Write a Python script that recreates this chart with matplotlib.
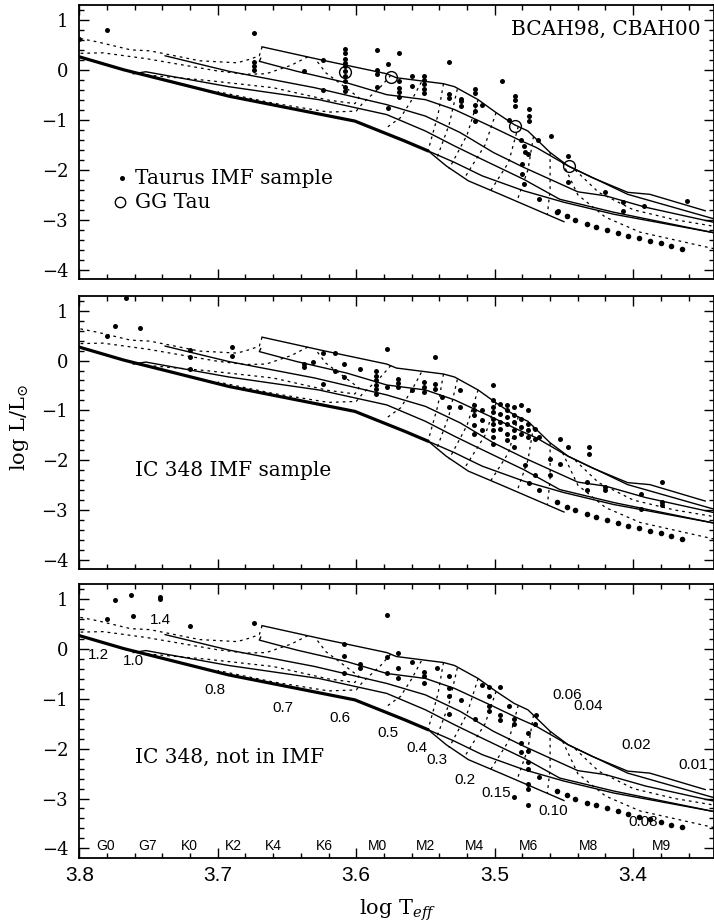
import matplotlib
matplotlib.use("Agg")
import matplotlib.pyplot as plt
from matplotlib.ticker import MultipleLocator

plt.rcParams["mathtext.fontset"] = "dejavuserif"

# ── axes limits ───────────────────────────────────────────────────────
XLIM = (3.80, 3.342)
YLIM = (-4.19, 1.30)

# ── model isochrones (log Teff, log L) ───────────────────────────────
ISO_A_T = [3.668, 3.624, 3.578, 3.571, 3.537, 3.529, 3.512, 3.499, 3.486, 3.476,
           3.460, 3.447, 3.430, 3.404, 3.388, 3.348]
ISO_A_L = [0.47, 0.20, -0.07, -0.15, -0.27, -0.33, -0.59, -0.85, -1.09, -1.22,
           -1.65, -1.92, -2.15, -2.45, -2.49, -2.82]
ISO_B_T = [3.669, 3.670, 3.643, 3.607, 3.578, 3.550, 3.529, 3.501, 3.483, 3.470,
           3.447, 3.404, 3.342]
ISO_B_L = [0.24, 0.18, -0.02, -0.25, -0.49, -0.59, -0.79, -1.15, -1.39, -1.55,
           -1.92, -2.49, -2.98]
ISO_C_T = [3.738, 3.692, 3.630, 3.578, 3.550, 3.525, 3.501, 3.479, 3.440, 3.420,
           3.391, 3.342]
ISO_C_L = [0.29, -0.02, -0.35, -0.69, -0.92, -1.25, -1.65, -1.95, -2.44, -2.52,
           -2.75, -3.05]
ISO_D_T = [3.761, 3.752, 3.746, 3.692, 3.627, 3.578, 3.550, 3.529, 3.512, 3.479,
           3.453, 3.414, 3.342]
ISO_D_L = [-0.07, -0.03, -0.06, -0.33, -0.59, -0.89, -1.22, -1.52, -1.75, -2.19,
           -2.59, -2.85, -3.26]
THICK_T = [3.800, 3.768, 3.692, 3.601, 3.565, 3.548]
THICK_L = [0.27, 0.01, -0.52, -1.02, -1.42, -1.62]
ISO_E1_T = [3.548, 3.535, 3.519, 3.496, 3.450]
ISO_E1_L = [-1.62, -1.92, -2.22, -2.49, -3.04]
ISO_E2_T = [3.548, 3.529, 3.509, 3.479, 3.450, 3.414, 3.342]
ISO_E2_L = [-1.62, -1.85, -2.12, -2.42, -2.65, -2.89, -3.26]

# big-dot model sequence
BIGDOT_T = [3.455, 3.448, 3.442, 3.433, 3.427, 3.419, 3.411, 3.404, 3.396,
            3.388, 3.380, 3.373, 3.365]
BIGDOT_L = [-2.84, -2.93, -3.00, -3.08, -3.14, -3.20, -3.26, -3.32, -3.37,
            -3.42, -3.47, -3.53, -3.58]

# ── mass tracks (dotted) ─────────────────────────────────────────────
TRACKS = {
    "1.4": ([3.668, 3.670, 3.677, 3.686, 3.713, 3.749, 3.763, 3.787, 3.800],
            [0.47, 0.29, 0.22, 0.15, 0.19, 0.39, 0.41, 0.57, 0.64]),
    "1.2": ([3.635, 3.647, 3.665, 3.680, 3.701, 3.751, 3.783, 3.800],
            [0.27, 0.10, -0.07, -0.08, -0.01, 0.23, 0.35, 0.34]),
    "1.0": ([3.628, 3.622, 3.610, 3.598, 3.601, 3.620, 3.660, 3.709, 3.758],
            [0.17, -0.05, -0.30, -0.55, -0.67, -0.60, -0.35, -0.20, -0.08]),
    "0.8": ([3.575, 3.583, 3.595, 3.600, 3.620, 3.660, 3.700],
            [-0.10, -0.35, -0.65, -0.82, -0.84, -0.66, -0.43]),
    "0.7": ([3.553, 3.560, 3.568, 3.578],
            [-0.24, -0.60, -0.95, -1.15]),
    "0.6": ([3.537, 3.541, 3.548], [-0.27, -0.90, -1.60]),
    "0.5": ([3.527, 3.533, 3.542], [-0.38, -1.10, -1.78]),
    "0.4": ([3.512, 3.520, 3.533], [-0.59, -1.30, -1.98]),
    "0.3": ([3.499, 3.507, 3.522], [-0.85, -1.50, -2.17]),
    "0.2": ([3.483, 3.490, 3.503], [-1.13, -1.85, -2.42]),
    "0.15": ([3.472, 3.476, 3.484], [-1.33, -2.00, -2.63]),
    "0.10": ([3.460, 3.460, 3.462], [-1.65, -2.40, -2.90]),
    "0.08": ([3.451, 3.440, 3.420, 3.395, 3.342], [-1.85, -2.50, -2.95, -3.25, -3.58]),
    "0.06": ([3.442, 3.425, 3.400, 3.370, 3.342], [-2.00, -2.45, -2.80, -3.00, -3.13]),
}

# mass labels (bottom panel)
MASS_LABELS = ["1.4", "1.2", "1.0", "0.8", "0.7", "0.6", "0.5", "0.4", "0.3",
               "0.2", "0.15", "0.10", "0.08", "0.06", "0.04", "0.02", "0.01"]
MASS_LAB_T = [3.7417, 3.7863, 3.761, 3.702, 3.6527, 3.6118, 3.577, 3.5564, 3.542,
              3.5215, 3.4986, 3.4578, 3.3928, 3.448, 3.4325, 3.3975, 3.3567]
MASS_LAB_L = [0.587, -0.114, -0.248, -0.816, -1.18, -1.38, -1.68, -1.98, -2.22,
              -2.62, -2.89, -3.25, -3.47, -0.92, -1.15, -1.92, -2.32]

# spectral types along the bottom
SPT_LABELS = ["G0", "G7", "K0", "K2", "K4", "K6", "M0", "M2", "M4", "M6", "M8", "M9"]
SPT_T = [3.781, 3.751, 3.7206, 3.689, 3.660, 3.623, 3.585, 3.550, 3.5143,
         3.4753, 3.4325, 3.3795]

# ── observed samples ─────────────────────────────────────────────────
TAU_T = [3.800, 3.780, 3.674, 3.674, 3.674, 3.674, 3.624, 3.638, 3.624,
         3.608, 3.608, 3.608, 3.608, 3.608, 3.608, 3.608, 3.608, 3.608, 3.608,
         3.585, 3.577, 3.569, 3.585, 3.585, 3.585, 3.577,
         3.569, 3.569, 3.569, 3.569, 3.560, 3.560,
         3.551, 3.551, 3.551, 3.551, 3.551,
         3.533, 3.533, 3.533, 3.524, 3.524, 3.524,
         3.514, 3.514, 3.514, 3.514, 3.514, 3.509, 3.495, 3.490,
         3.485, 3.485, 3.485, 3.475, 3.475, 3.475,
         3.481, 3.479, 3.478, 3.476, 3.480, 3.480, 3.469, 3.459,
         3.479, 3.468, 3.447, 3.447, 3.454, 3.448, 3.420, 3.407, 3.407, 3.392, 3.361]
TAU_L = [0.63, 0.80, 0.75, 0.16, 0.08, 0.01, 0.21, -0.02, -0.39,
         0.43, 0.34, 0.23, 0.15, 0.08, -0.02, -0.12, -0.22, -0.33, -0.42,
         0.40, 0.13, 0.35, 0.00, -0.07, -0.33, -0.75,
         -0.22, -0.35, -0.44, -0.53, -0.11, -0.31,
         -0.12, -0.20, -0.28, -0.37, -0.45,
         0.17, -0.47, -0.55, -0.57, -0.62, -0.72,
         -0.37, -0.45, -0.69, -0.82, -1.02, -0.69, -0.22, -1.00,
         -0.51, -0.59, -0.72, -0.77, -0.92, -1.02,
         -1.39, -1.52, -1.65, -1.69, -1.89, -2.09, -1.39, -1.32,
         -2.29, -2.59, -1.72, -2.24, -2.82, -2.92, -2.45, -2.64, -2.82, -2.72, -2.62]
GGTAU_T = [3.608, 3.575, 3.485, 3.446]
GGTAU_L = [-0.04, -0.13, -1.11, -1.92]

IMF_T = [3.766, 3.774, 3.780, 3.756, 3.720, 3.720, 3.720, 3.690, 3.690,
         3.624, 3.615, 3.638, 3.638, 3.631, 3.624, 3.615, 3.609, 3.609, 3.597,
         3.586, 3.586, 3.586, 3.586, 3.586, 3.586, 3.578, 3.578,
         3.570, 3.570, 3.570, 3.560, 3.551, 3.551, 3.551,
         3.543, 3.543, 3.543, 3.538, 3.533, 3.525, 3.525,
         3.515, 3.515, 3.515, 3.515, 3.515, 3.501,
         3.509, 3.509, 3.509,
         3.501, 3.501, 3.501, 3.501, 3.501, 3.501, 3.501, 3.501,
         3.496, 3.496, 3.496, 3.496,
         3.491, 3.491, 3.491, 3.491, 3.491, 3.491,
         3.486, 3.486, 3.486, 3.486, 3.486, 3.486,
         3.481, 3.481, 3.481, 3.481,
         3.476, 3.476, 3.476, 3.476,
         3.471, 3.471, 3.468,
         3.478, 3.453, 3.447, 3.460, 3.460, 3.453,
         3.432, 3.432, 3.433, 3.433, 3.420, 3.420,
         3.394, 3.394, 3.379, 3.379, 3.379, 3.468, 3.471, 3.475]
IMF_L = [1.25, 0.70, 0.50, 0.65, 0.21, 0.07, -0.17, 0.28, 0.10,
         0.15, 0.15, -0.07, -0.13, -0.03, -0.48, -0.20, -0.07, -0.32, -0.17,
         -0.20, -0.30, -0.40, -0.50, -0.57, -0.67, 0.23, -0.53,
         -0.37, -0.45, -0.53, -0.59, -0.43, -0.53, -0.63,
         0.07, -0.47, -0.57, -0.73, -0.93, -0.60, -0.93,
         -0.90, -1.00, -1.10, -1.30, -1.47, -0.50,
         -1.00, -1.20, -1.40,
         -0.80, -0.93, -1.03, -1.17, -1.27, -1.40, -1.53, -1.67,
         -0.87, -1.07, -1.23, -1.37,
         -0.90, -1.00, -1.13, -1.27, -1.47, -1.60,
         -0.93, -1.10, -1.23, -1.40, -1.53, -1.73,
         -0.90, -1.17, -1.33, -1.47,
         -1.00, -1.27, -1.40, -1.53,
         -1.37, -1.57, -1.53,
         -2.10, -1.57, -1.73, -1.97, -2.30, -2.07,
         -1.73, -1.87, -2.43, -2.60, -2.53, -2.60,
         -2.68, -2.97, -2.43, -2.83, -2.90, -2.60, -2.30, -2.45]

NOT_T = [3.774, 3.763, 3.742, 3.742, 3.761, 3.780, 3.720, 3.674, 3.578,
         3.609, 3.609, 3.609, 3.597, 3.597, 3.578, 3.578,
         3.570, 3.570, 3.570, 3.560, 3.551, 3.551, 3.551, 3.542,
         3.533, 3.533, 3.533, 3.533, 3.524, 3.514, 3.509,
         3.504, 3.504, 3.504, 3.504, 3.496, 3.496, 3.496, 3.490,
         3.486, 3.486, 3.481, 3.481, 3.476, 3.476, 3.476, 3.476,
         3.471, 3.470, 3.468, 3.476, 3.476, 3.486, 3.476]
NOT_L = [0.99, 1.09, 1.04, 1.00, 0.66, 0.61, 0.46, 0.53, 0.69,
         0.10, -0.14, -0.49, -0.30, -0.39, -0.16, -0.49,
         -0.08, -0.39, -0.58, -0.26, -0.46, -0.54, -0.69, -0.38,
         -0.54, -0.79, -0.95, -1.30, -1.02, -1.41, -0.72,
         -0.76, -0.95, -1.15, -1.25, -0.76, -1.32, -1.43, -1.15,
         -1.41, -1.51, -1.88, -2.07, -1.68, -2.04, -2.27, -2.40,
         -1.51, -1.32, -2.57, -2.70, -2.80, -2.96, -3.13]

SERIF = "DejaVu Serif"
SANS = "Liberation Sans"


def draw_models(ax):
    for t, l in [(ISO_A_T, ISO_A_L), (ISO_B_T, ISO_B_L), (ISO_C_T, ISO_C_L),
                 (ISO_D_T, ISO_D_L), (ISO_E1_T, ISO_E1_L), (ISO_E2_T, ISO_E2_L)]:
        ax.plot(t, l, color="black", lw=1.0, zorder=2)
    ax.plot(THICK_T, THICK_L, color="black", lw=2.3, zorder=2,
            solid_capstyle="round")
    for t, l in TRACKS.values():
        ax.plot(t, l, color="black", lw=0.9, ls=(0, (2.2, 3.2)), zorder=2)
    ax.plot(BIGDOT_T, BIGDOT_L, "o", color="black", ms=4.0, mew=0, zorder=3)


def style_axes(ax, bottom=False):
    ax.set_xlim(*XLIM)
    ax.set_ylim(*YLIM)
    ax.xaxis.set_major_locator(MultipleLocator(0.1))
    ax.xaxis.set_minor_locator(MultipleLocator(0.02))
    ax.yaxis.set_major_locator(MultipleLocator(1))
    ax.yaxis.set_minor_locator(MultipleLocator(0.2))
    ax.tick_params(which="both", direction="in", top=True, right=True,
                   width=1.0, color="black")
    ax.tick_params(which="major", length=7.5)
    ax.tick_params(which="minor", length=3.6)
    ax.tick_params(axis="y", pad=8, labelsize=13)
    for lab in ax.get_yticklabels():
        lab.set_fontfamily(SERIF)
    ax.set_yticks([1, 0, -1, -2, -3, -4])
    ax.set_yticklabels(["1", "0", "\u22121", "\u22122", "\u22123", "\u22124"],
                       fontfamily=SERIF, fontsize=13)
    if bottom:
        ax.set_xticks([3.8, 3.7, 3.6, 3.5, 3.4])
        ax.set_xticklabels(["3.8", "3.7", "3.6", "3.5", "3.4"],
                           fontfamily=SANS, fontsize=15)
        ax.tick_params(axis="x", pad=6)
    else:
        ax.set_xticklabels([])
    for s in ax.spines.values():
        s.set_linewidth(1.3)


fig = plt.figure(figsize=(7.14, 9.22), dpi=100)
W = 714.0
H = 922.0
left = 79.3 / W
width = (713.5 - 79.3) / W
ph = 273.5 / H
tops = [5.5, 295.8, 584.3]
axes = [fig.add_axes([left, 1 - (t + 273.5) / H, width, ph]) for t in tops]

samples = [(TAU_T, TAU_L), (IMF_T, IMF_L), (NOT_T, NOT_L)]
for i, ax in enumerate(axes):
    draw_models(ax)
    t, l = samples[i]
    ax.plot(t, l, "o", color="black", ms=3.6, mew=0, zorder=4)
    style_axes(ax, bottom=(i == 2))

# panel 1 extras
ax1 = axes[0]
ax1.plot(GGTAU_T, GGTAU_L, "o", mfc="none", mec="black", ms=8.5, mew=1.0, zorder=5)
ax1.text(3.4885, 0.82, "BCAH98, CBAH00", fontfamily=SERIF, fontsize=14.5,
         ha="left", va="center")
ax1.plot([3.7695], [-2.17], "o", color="black", ms=3.6, mew=0)
ax1.text(3.7598, -2.17, "Taurus IMF sample", fontfamily=SERIF, fontsize=14.5,
         ha="left", va="center")
ax1.plot([3.7706], [-2.65], "o", mfc="none", mec="black", ms=7.5, mew=1.0)
ax1.text(3.7598, -2.65, "GG Tau", fontfamily=SERIF, fontsize=14.5,
         ha="left", va="center")

axes[1].text(3.7598, -2.20, "IC 348 IMF sample", fontfamily=SERIF, fontsize=14.5,
             ha="left", va="center")

ax3 = axes[2]
ax3.text(3.7598, -2.17, "IC 348, not in IMF", fontfamily=SERIF, fontsize=14.5,
         ha="left", va="center")
for lab, t, l in zip(MASS_LABELS, MASS_LAB_T, MASS_LAB_L):
    ax3.text(t, l, lab, fontfamily=SANS, fontsize=11, ha="center", va="center",
             clip_on=True)
for lab, t in zip(SPT_LABELS, SPT_T):
    ax3.text(t, -3.96, lab, fontfamily=SANS, fontsize=10, ha="center", va="center")

fig.text(0.0273, 0.5358, r"log L/L$_{\odot}$", fontfamily=SERIF, fontsize=15,
         rotation=90, ha="center", va="center")
fig.text(0.557, 0.013, r"log T$_{\it eff}$", fontfamily=SERIF, fontsize=15,
         ha="center", va="center")

fig.savefig("out.png", dpi=100)
